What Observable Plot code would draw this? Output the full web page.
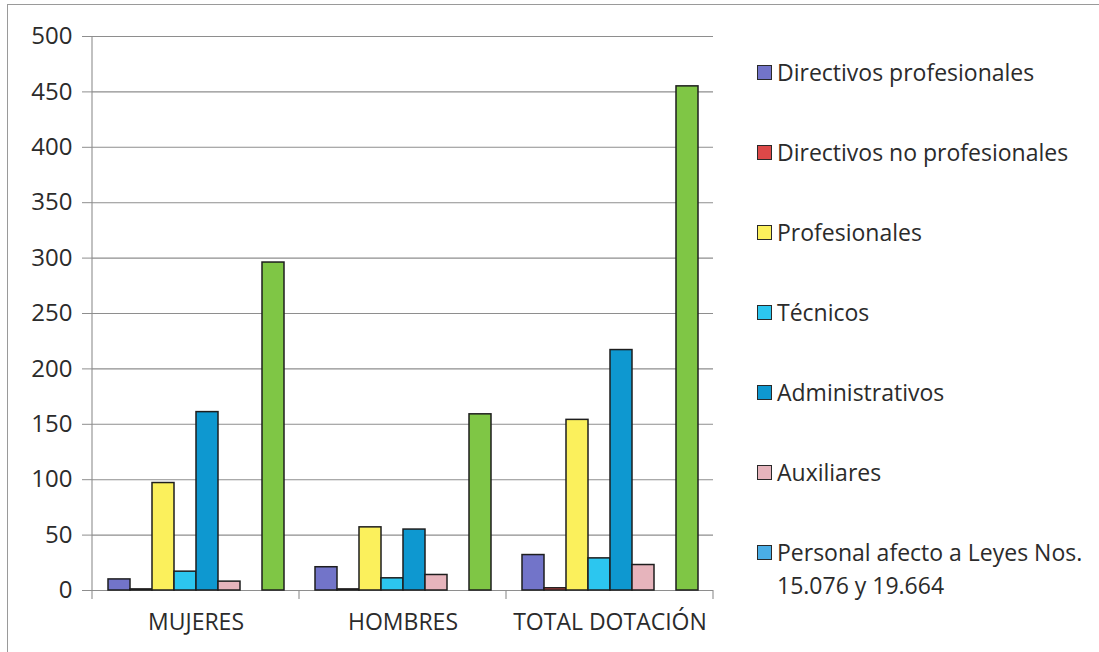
<!DOCTYPE html>
<html lang="es">
<head>
<meta charset="utf-8">
<script src="https://cdn.jsdelivr.net/npm/d3@7"></script>
<script src="https://cdn.jsdelivr.net/npm/@observablehq/plot@0.6"></script>
<style>
  html, body { margin: 0; padding: 0; background: #fff; }
  #wrap { position: relative; width: 1099px; height: 652px; overflow: hidden; font-family: "Open Sans", Lato, sans-serif; }
  #border { position: absolute; left: 7px; top: 4px; width: 1110px; height: 670px; border: 1.5px solid #9a9a9a; box-sizing: border-box; }
  #chart { position: absolute; left: 0; top: 0; }
  #legend { position: absolute; left: 757px; top: 56px; width: 338px; }
  .item { display: flex; align-items: flex-start; height: 80px; font-size: 23px; line-height: 33px; color: #2b2b2b; }
  .sw { flex: none; width: 15px; height: 15px; border: 1.5px solid #2a2a2a; box-sizing: border-box; margin-top: 9px; margin-right: 5px; }
</style>
</head>
<body>
<div id="wrap">
  <div id="border"></div>
  <div id="chart"></div>
  <div id="legend"></div>
</div>
<script>
// Staff headcount by category, split by women, men and total
const groups = ["MUJERES", "HOMBRES", "TOTAL DOTACIÓN"];
const series = [
  "Directivos profesionales",
  "Directivos no profesionales",
  "Profesionales",
  "Técnicos",
  "Administrativos",
  "Auxiliares",
  "Personal afecto a Leyes Nos. 15.076 y 19.664",
  "Total"
];
const colors = ["#7274c9", "#dc4848", "#fbf05c", "#2cc6ef", "#0e98d0", "#e6b4bc", "#4aaee6", "#7fc645"];

const directivosProfesionales = [10, 21, 32];
const directivosNoProfesionales = [1, 1, 2];
const profesionales = [97, 57, 154];
const tecnicos = [17, 11, 29];
const administrativos = [161, 55, 217];
const auxiliares = [8, 14, 23];
const personalLeyes = [0, 0, 0];
const total = [296, 159, 455];

const yTicks = [0, 50, 100, 150, 200, 250, 300, 350, 400, 450, 500];

const valuesBySeries = [
  directivosProfesionales, directivosNoProfesionales, profesionales, tecnicos,
  administrativos, auxiliares, personalLeyes, total
];

const rows = [];
groups.forEach((g, gi) => {
  series.forEach((s, si) => rows.push({group: g, series: s, value: valuesBySeries[si][gi]}));
});

const plot = Plot.plot({
  width: 1099,
  height: 652,
  marginLeft: 92,
  marginRight: 386,
  marginTop: 36,
  marginBottom: 62,
  style: {fontFamily: "'Open Sans', Lato, sans-serif", background: "transparent", color: "#2b2b2b"},
  fx: {domain: groups, paddingInner: 0, paddingOuter: 0, label: null},
  x: {domain: series, paddingInner: 0, paddingOuter: 0.66, axis: null},
  y: {domain: [0, 500], label: null},
  color: {domain: series, range: colors},
  marks: [
    Plot.ruleY(yTicks, {stroke: "#8e8e8e", strokeWidth: 1.1}),
    Plot.barY(rows.filter(d => d.value > 0), {
      fx: "group", x: "series", y: "value", fill: "series",
      stroke: "#1e1e1e", strokeWidth: 1.5
    }),
    Plot.axisY(yTicks, {tickSize: 10, tickPadding: 10, fontSize: 24, stroke: "#8e8e8e", strokeOpacity: 1, fill: "#2b2b2b"}),
    Plot.axisFx({anchor: "bottom", tickSize: 0, tickPadding: 23, fontSize: 23, fill: "#2b2b2b", label: null})
  ]
});
document.getElementById("chart").appendChild(plot);

// Axis line and category boundary ticks, positioned from the plot's scales
const fx = plot.scale("fx");
const y = plot.scale("y");
const svg = d3.select(plot);
const y0 = y.apply(0), yTop = y.apply(500);
const x0 = fx.apply(groups[0]);
const g = svg.append("g").attr("stroke", "#8e8e8e").attr("stroke-width", 1.1);
g.append("line").attr("x1", x0).attr("x2", x0).attr("y1", yTop).attr("y2", y0 + 9);
groups.forEach(name => {
  const xr = fx.apply(name) + fx.bandwidth;
  g.append("line").attr("x1", xr).attr("x2", xr).attr("y1", y0).attr("y2", y0 + 9);
});

// Legend (the last series has no entry)
const legend = d3.select("#legend");
series.slice(0, 7).forEach((s, i) => {
  const item = legend.append("div").attr("class", "item");
  item.append("div").attr("class", "sw").style("background", colors[i]);
  item.append("span").text(s);
});
</script>
</body>
</html>
